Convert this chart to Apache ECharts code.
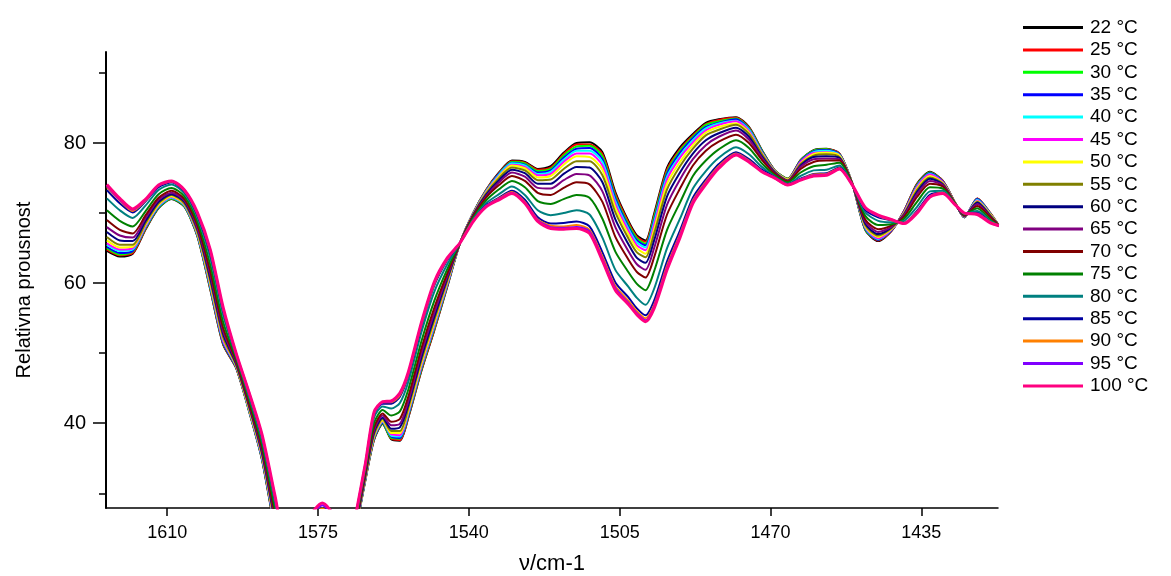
<!DOCTYPE html>
<html>
<head>
<meta charset="utf-8">
<script src="https://cdn.jsdelivr.net/npm/echarts@6/dist/echarts.min.js"></script>
<style>
html,body{margin:0;padding:0;background:#fff;}
#chart{width:1171px;height:576px;}
</style>
</head>
<body>
<div id="chart"></div>
<script>
// wavenumbers (cm-1)
const wavenumbers = [1624,1621,1618,1615,1612,1609,1606,1603,1600,1597,
1594,1591,1588,1585,1581,1577,1574,1571,1568,1566,
1564,1562,1560,1558,1556,1554,1551,1548,1545,1542,
1539,1536,1533,1530,1527,1524,1521,1518,1515,1512,
1509,1506,1503,1501,1499,1497,1494,1491,1488,1485,
1482,1478,1475,1472,1469,1466,1463,1460,1457,1454,
1451,1448,1445,1442,1439,1436,1433,1430,1427,1425,
1422,1419,1417];

const temperatures = ['22 °C','25 °C','30 °C','35 °C','40 °C','45 °C','50 °C','55 °C','60 °C','65 °C','70 °C','75 °C','80 °C','85 °C','90 °C','95 °C','100 °C'];

const t22 = [64.6,63.8,64.2,67.7,70.7,72.0,70.9,66.7,59.1,51.2, 47.9,41.7,34.8,24.7,12.0,13.0,14.0,13.0,15.0,25.1, 31.9,37.6,39.9,37.7,37.5,40.9,47.5,53.3,59.5,65.8, 70.0,73.3,75.8,77.5,77.3,76.3,76.7,78.6,80.0,80.1, 78.7,73.0,68.9,66.8,66.1,69.9,76.5,79.4,81.3,82.9, 83.4,83.7,82.3,79.0,76.1,74.9,77.6,79.0,79.2,78.5, 74.2,67.6,66.0,67.4,70.3,74.2,75.9,74.6,71.3,69.4, 72.1,70.0,68.2];
const t25 = [64.8,64.0,64.3,67.8,70.8,72.1,71.0,66.8,59.2,51.3, 47.9,41.8,34.9,24.8,12.1,13.3,14.3,13.3,15.1,25.2, 32.0,37.7,40.0,37.8,37.6,41.0,47.6,53.4,59.6,65.8, 70.0,73.3,75.7,77.4,77.2,76.2,76.5,78.4,79.8,79.8, 78.4,72.7,68.7,66.6,65.9,69.6,76.2,79.1,81.1,82.7, 83.3,83.6,82.2,78.9,76.1,74.9,77.5,78.9,79.1,78.5, 74.2,67.7,66.1,67.4,70.3,74.1,75.8,74.6,71.3,69.4, 72.1,70.0,68.2];
const t30 = [65.0,64.1,64.5,67.9,70.8,72.1,71.0,66.8,59.3,51.4, 48.0,41.8,34.9,24.9,12.2,13.5,14.6,13.5,15.2,25.2, 32.0,37.8,40.0,37.9,37.8,41.2,47.8,53.6,59.7,65.8, 70.0,73.2,75.6,77.3,77.1,76.0,76.3,78.2,79.5,79.6, 78.1,72.4,68.4,66.4,65.6,69.4,75.9,78.9,80.9,82.6, 83.1,83.5,82.1,78.9,76.1,74.9,77.5,78.9,79.1,78.4, 74.2,67.7,66.2,67.5,70.2,74.0,75.8,74.5,71.3,69.4, 72.0,69.9,68.2];
const t35 = [65.2,64.3,64.6,68.0,70.9,72.2,71.1,66.9,59.5,51.5, 48.0,41.9,35.0,25.0,12.4,13.9,15.0,13.9,15.4,25.3, 32.1,37.9,40.1,38.1,37.9,41.3,48.0,53.8,59.8,65.8, 69.9,73.1,75.6,77.2,76.9,75.8,76.1,77.9,79.2,79.3, 77.7,72.1,68.1,66.1,65.4,69.0,75.6,78.6,80.7,82.3, 82.9,83.4,82.0,78.8,76.0,74.8,77.4,78.8,79.0,78.4, 74.2,67.8,66.2,67.5,70.2,73.9,75.7,74.5,71.3,69.4, 72.0,69.9,68.2];
const t40 = [65.5,64.6,64.8,68.1,71.0,72.2,71.1,67.0,59.6,51.7, 48.1,41.9,35.1,25.2,12.5,14.2,15.3,14.2,15.5,25.3, 32.1,38.0,40.2,38.2,38.1,41.5,48.1,53.9,59.9,65.8, 69.9,73.1,75.5,77.1,76.8,75.6,75.9,77.6,78.9,78.9, 77.3,71.7,67.8,65.8,65.1,68.7,75.2,78.2,80.4,82.1, 82.8,83.2,81.9,78.7,76.0,74.8,77.3,78.7,78.9,78.3, 74.2,67.9,66.3,67.6,70.1,73.8,75.6,74.4,71.3,69.5, 71.9,69.9,68.2];
const t45 = [65.7,64.8,65.0,68.2,71.1,72.3,71.2,67.1,59.8,51.8, 48.2,42.0,35.2,25.3,12.7,14.6,15.8,14.6,15.7,25.4, 32.2,38.1,40.3,38.4,38.3,41.7,48.3,54.1,60.0,65.8, 69.9,73.0,75.3,76.9,76.6,75.4,75.6,77.3,78.5,78.5, 76.8,71.3,67.5,65.4,64.7,68.3,74.8,77.9,80.1,81.8, 82.6,83.1,81.7,78.6,76.0,74.8,77.3,78.6,78.7,78.2, 74.2,68.0,66.4,67.6,70.1,73.7,75.5,74.4,71.3,69.5, 71.8,69.8,68.2];
const t50 = [66.1,65.1,65.2,68.4,71.2,72.4,71.3,67.2,60.0,52.1, 48.2,42.1,35.4,25.5,13.0,15.2,16.3,15.2,16.0,25.5, 32.3,38.2,40.4,38.6,38.6,41.9,48.6,54.4,60.2,65.8, 69.8,72.9,75.2,76.8,76.4,75.1,75.3,76.9,78.1,78.0, 76.2,70.8,67.0,65.0,64.2,67.7,74.2,77.3,79.7,81.5, 82.3,82.8,81.5,78.5,75.9,74.8,77.1,78.4,78.6,78.2, 74.2,68.1,66.6,67.7,70.0,73.5,75.3,74.3,71.3,69.5, 71.7,69.8,68.2];
const t55 = [66.6,65.5,65.5,68.6,71.4,72.6,71.4,67.4,60.3,52.3, 48.3,42.3,35.6,25.8,13.3,15.8,17.1,15.8,16.3,25.7, 32.4,38.4,40.6,38.9,38.9,42.3,49.0,54.8,60.4,65.8, 69.8,72.8,75.0,76.5,76.1,74.7,74.8,76.3,77.4,77.4, 75.4,70.1,66.4,64.4,63.7,67.1,73.4,76.7,79.2,81.1, 81.9,82.6,81.3,78.4,75.9,74.7,77.0,78.2,78.4,78.0, 74.2,68.3,66.8,67.8,69.9,73.3,75.1,74.2,71.3,69.5, 71.6,69.7,68.2];
const t60 = [67.3,66.1,66.0,68.9,71.6,72.7,71.6,67.7,60.7,52.7, 48.5,42.5,35.8,26.1,13.7,16.8,18.1,16.8,16.7,25.8, 32.6,38.7,40.8,39.2,39.4,42.7,49.4,55.2,60.7,65.8, 69.7,72.6,74.7,76.2,75.7,74.2,74.2,75.6,76.6,76.5, 74.4,69.1,65.6,63.6,62.9,66.1,72.4,75.8,78.5,80.4, 81.4,82.2,80.9,78.1,75.8,74.6,76.8,78.0,78.1,77.9, 74.1,68.5,67.0,67.9,69.8,73.0,74.9,74.1,71.2,69.6, 71.5,69.6,68.2];
const t65 = [68.0,66.8,66.5,69.3,71.9,72.9,71.8,67.9,61.2,53.1, 48.7,42.7,36.1,26.5,14.2,17.9,19.3,17.9,17.2,26.0, 32.8,39.0,41.1,39.7,39.9,43.2,50.0,55.8,61.0,65.8, 69.6,72.4,74.4,75.8,75.2,73.6,73.5,74.7,75.6,75.4, 73.1,68.0,64.6,62.7,61.9,65.0,71.2,74.8,77.7,79.7, 80.9,81.8,80.5,77.9,75.7,74.6,76.6,77.7,77.8,77.7, 74.1,68.8,67.3,68.0,69.7,72.7,74.6,74.0,71.2,69.6, 71.3,69.5,68.2];
const t70 = [69.0,67.6,67.1,69.7,72.2,73.2,72.0,68.3,61.7,53.6, 48.9,42.9,36.5,27.0,14.8,19.2,20.7,19.2,17.8,26.3, 33.0,39.4,41.4,40.2,40.6,43.9,50.7,56.5,61.4,65.8, 69.5,72.2,74.0,75.3,74.6,72.9,72.6,73.6,74.4,74.1, 71.6,66.6,63.4,61.6,60.8,63.7,69.8,73.5,76.8,78.9, 80.2,81.2,80.0,77.6,75.6,74.5,76.3,77.3,77.5,77.5, 74.1,69.1,67.7,68.2,69.5,72.3,74.2,73.8,71.2,69.7, 71.0,69.4,68.2];
const t75 = [70.4,68.9,68.1,70.3,72.7,73.6,72.4,68.8,62.6,54.4, 49.2,43.4,37.0,27.8,15.7,21.2,22.9,21.2,18.7,26.7, 33.4,40.0,41.9,41.1,41.7,44.9,51.7,57.5,62.0,65.8, 69.3,71.8,73.4,74.6,73.7,71.7,71.3,72.0,72.6,72.2, 69.2,64.5,61.6,59.9,59.0,61.7,67.6,71.5,75.3,77.5, 79.1,80.4,79.3,77.1,75.4,74.4,75.8,76.7,76.9,77.2, 74.1,69.6,68.3,68.4,69.2,71.6,73.7,73.5,71.2,69.8, 70.7,69.1,68.2];
const t80 = [72.1,70.4,69.3,71.1,73.3,74.1,72.8,69.4,63.6,55.4, 49.6,43.8,37.6,28.7,16.7,23.7,25.5,23.7,19.7,27.2, 33.8,40.8,42.4,42.1,42.9,46.0,53.0,58.8,62.7,65.8, 69.1,71.4,72.7,73.8,72.6,70.4,69.7,70.0,70.4,69.8, 66.5,61.9,59.5,57.9,56.9,59.2,65.0,69.2,73.5,76.0, 77.9,79.4,78.4,76.6,75.2,74.2,75.3,76.1,76.2,76.8, 74.0,70.1,68.9,68.7,68.9,70.9,73.1,73.2,71.1,69.9, 70.3,68.9,68.2];
const t85 = [73.3,71.4,70.1,71.7,73.7,74.4,73.1,69.8,64.3,56.1, 49.8,44.2,38.1,29.3,17.5,25.4,27.4,25.4,20.5,27.5, 34.1,41.3,42.8,42.8,43.8,46.9,53.9,59.7,63.3,65.8, 68.9,71.1,72.2,73.2,71.9,69.4,68.5,68.6,68.8,68.1, 64.4,60.1,58.0,56.4,55.4,57.5,63.1,67.5,72.2,74.8, 77.0,78.7,77.7,76.2,75.1,74.1,74.9,75.6,75.7,76.5, 74.0,70.5,69.4,69.0,68.6,70.3,72.6,72.9,71.1,70.0, 70.0,68.7,68.2];
const t90 = [73.7,71.8,70.3,71.8,73.9,74.5,73.2,70.0,64.6,56.3, 49.9,44.3,38.3,29.5,17.8,26.0,27.8,26.0,20.8,27.6, 34.2,41.4,43.0,43.0,44.0,47.1,54.1,59.9,63.4,65.8, 68.9,71.0,72.1,73.0,71.6,69.1,68.2,68.1,68.3,67.6, 63.8,59.6,57.5,56.0,55.0,56.9,62.5,67.0,71.8,74.5, 76.7,78.5,77.5,76.0,75.0,74.0,74.8,75.5,75.6,76.4, 74.0,70.7,69.6,69.0,68.6,70.2,72.4,72.9,71.1,70.0, 69.9,68.7,68.2];
const t95 = [73.9,71.9,70.5,71.9,73.9,74.6,73.3,70.0,64.7,56.4, 50.0,44.4,38.3,29.6,17.9,26.2,28.3,26.2,20.9,27.7, 34.3,41.5,43.0,43.1,44.2,47.3,54.3,60.1,63.5,65.8, 68.8,71.0,72.0,72.9,71.5,69.0,68.0,67.9,68.0,67.4, 63.5,59.3,57.2,55.7,54.7,56.7,62.2,66.8,71.6,74.3, 76.5,78.4,77.4,76.0,75.0,74.0,74.8,75.4,75.5,76.3, 74.0,70.7,69.6,69.1,68.5,70.1,72.4,72.8,71.1,70.0, 69.9,68.6,68.2];
const t100 = [74.1,72.1,70.6,72.0,74.0,74.6,73.3,70.1,64.8,56.5, 50.0,44.4,38.4,29.7,18.0,26.5,28.6,26.5,21.0,27.7, 34.3,41.6,43.1,43.2,44.3,47.4,54.4,60.2,63.6,65.8, 68.8,70.9,71.9,72.8,71.4,68.8,67.8,67.7,67.8,67.1, 63.2,59.0,57.0,55.5,54.5,56.4,61.9,66.5,71.4,74.1, 76.4,78.3,77.3,75.9,75.0,74.0,74.7,75.3,75.4,76.3, 74.0,70.8,69.7,69.1,68.5,70.0,72.3,72.8,71.1,70.0, 69.8,68.6,68.2];

const xTickValues = [1610,1575,1540,1505,1470,1435];
const yTickValues = [40,60,80];
const yMinorTickValues = [30,50,70,90];

const spectra = [t22,t25,t30,t35,t40,t45,t50,t55,t60,t65,t70,t75,t80,t85,t90,t95,t100];
const palette = ['#000000','#ff0000','#00ff00','#0000ff','#00ffff','#ff00ff','#ffff00','#808000','#000080','#800080','#800000','#008000','#008080','#0000a0','#ff8000','#8000ff','#ff0080'];

const FONT = '"Liberation Sans", Arial, sans-serif';
const chart = echarts.init(document.getElementById('chart'), null, {renderer:'canvas'});

const series = temperatures.map((name, i) => ({
  type: 'line',
  name: name,
  data: wavenumbers.map((w, j) => [w, spectra[i][j]]),
  showSymbol: false,
  symbol: 'none',
  smooth: 0.25,
  clip: true,
  lineStyle: {width: i === 16 ? 3 : 2, color: palette[i]},
  itemStyle: {color: palette[i]},
  emphasis: {disabled: true},
  z: 2 + i
}));

chart.setOption({
  animation: false,
  backgroundColor: '#ffffff',
  textStyle: {fontFamily: FONT},
  grid: {left: 106, right: 173, top: 52, bottom: 68, containLabel: false, outerBoundsMode: 'none'},
  legend: {
    orient: 'vertical',
    left: 1018,
    top: 13,
    icon: 'rect',
    itemWidth: 60,
    itemHeight: 3,
    itemGap: 3.4,
    data: temperatures,
    textStyle: {fontFamily: FONT, fontSize: 19, lineHeight: 19, color: '#000', padding: [0, 0, 0, 2]},
    selectedMode: false
  },
  xAxis: {
    type: 'value',
    inverse: true,
    min: 1417.2,
    max: 1624.2,
    name: 'ν/cm-1',
    nameLocation: 'middle',
    nameGap: 45,
    nameTextStyle: {fontFamily: FONT, fontSize: 22, color: '#000'},
    axisLine: {show: true, onZero: false, lineStyle: {color: '#000', width: 1.5}},
    axisTick: {show: true, inside: false, length: 8, customValues: xTickValues, lineStyle: {color: '#000', width: 1.5}},
    axisLabel: {show: true, customValues: xTickValues, margin: 16, fontFamily: FONT, fontSize: 18, color: '#000',
      formatter: function (v) { return String(v); }},
    splitLine: {show: false}
  },
  yAxis: [{
    type: 'value',
    min: 27.9,
    max: 93,
    position: 'left',
    name: 'Relativna prousnost',
    nameLocation: 'middle',
    nameGap: 72,
    nameRotate: 90,
    nameTextStyle: {fontFamily: FONT, fontSize: 20, color: '#000', padding: [0, 20, 0, 0]},
    axisLine: {show: true, onZero: false, lineStyle: {color: '#000', width: 2}},
    axisTick: {show: true, inside: false, length: 13, customValues: yTickValues, lineStyle: {color: '#000', width: 1.5}},
    axisLabel: {show: true, customValues: yTickValues, margin: 20, fontFamily: FONT, fontSize: 20, color: '#000',
      formatter: function (v) { return String(v); }},
    splitLine: {show: false}
  }, {
    type: 'value',
    min: 27.9,
    max: 93,
    position: 'left',
    offset: 0,
    axisLine: {show: false},
    axisTick: {show: true, inside: false, length: 7, customValues: yMinorTickValues, lineStyle: {color: '#000', width: 1.5}},
    axisLabel: {show: false},
    splitLine: {show: false}
  }],
  series: series
});
</script>
</body>
</html>
